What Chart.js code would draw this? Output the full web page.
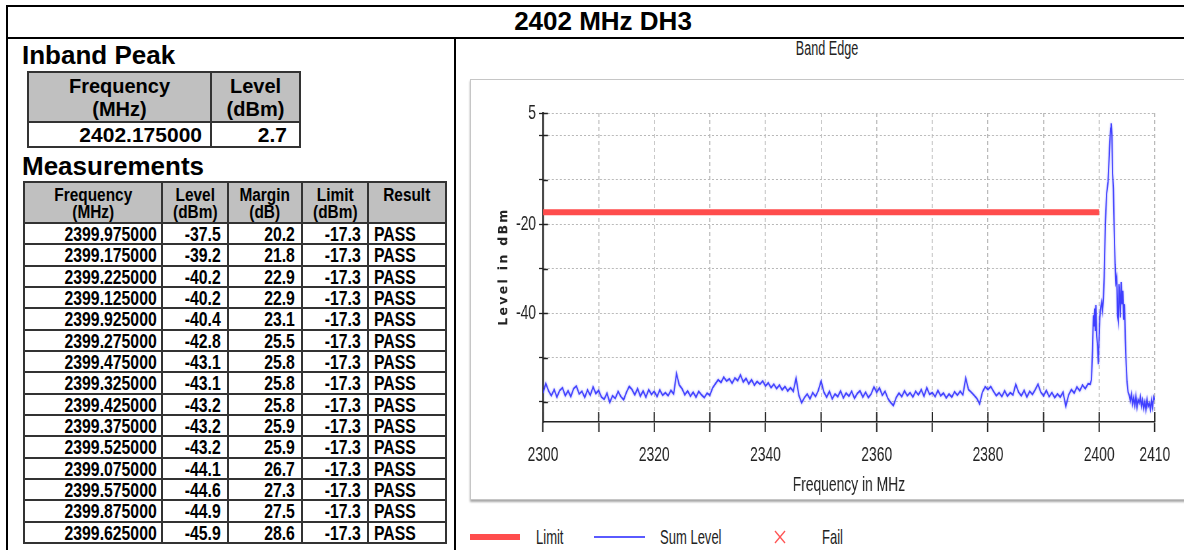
<!DOCTYPE html>
<html>
<head>
<meta charset="utf-8">
<script src="https://cdn.jsdelivr.net/npm/chart.js@4.4.1/dist/chart.umd.min.js"></script>
<style>
html,body{margin:0;padding:0;width:1184px;height:550px;overflow:hidden;background:#fff;}
body{position:relative;font-family:"Liberation Sans",Arial,sans-serif;color:#000;}
.ln{position:absolute;background:#000;}
#title{position:absolute;left:6px;top:6px;width:1194px;height:31px;line-height:31px;text-align:center;font-weight:bold;font-size:26px;}
.h2{position:absolute;left:22px;font-weight:bold;font-size:26px;line-height:26px;white-space:nowrap;}
table{position:absolute;border-collapse:collapse;table-layout:fixed;}
td,th{border:2px solid #333;padding:0;overflow:hidden;white-space:nowrap;}
#inband{left:27px;top:71px;width:274px;}
#inband th{background:#c0c0c0;font-size:20px;line-height:23px;font-weight:bold;vertical-align:top;padding-top:2px;text-align:center;}
#inband td{font-size:21px;line-height:23px;font-weight:bold;text-align:right;}
#meas{left:23px;top:181px;width:422px;}
#meas th{background:#c0c0c0;font-size:17.5px;line-height:17px;font-weight:bold;vertical-align:top;padding-top:4px;text-align:center;}
#meas td{font-size:20.5px;line-height:19px;font-weight:bold;text-align:right;padding-right:6px;}
#meas td.f{padding-right:4px;}
#meas td.res{text-align:left;padding-left:5px;padding-right:0;}
.sq{display:inline-block;transform:scaleX(0.77);transform-origin:100% 50%;}
.sqL{display:inline-block;transform:scaleX(0.77);transform-origin:0 50%;}
.sqC{display:inline-block;transform:scaleX(0.88);transform-origin:50% 50%;}
.cond{display:inline-block;transform:scaleX(0.62);transform-origin:0 50%;white-space:nowrap;}
#bandEdge{position:absolute;left:827px;top:38px;font-size:20px;line-height:20px;color:#222;}
#bandEdge span{display:inline-block;transform:translateX(-50%) scaleX(0.63);white-space:nowrap;}
#panel{position:absolute;left:470px;top:79px;width:740px;height:419px;border:1px solid #c6c6c6;box-shadow:0 2px 2px #a8a8a8;background:#fff;}
#panel canvas{position:absolute;left:0;top:0;transform-origin:0 0;}
.lg{position:absolute;top:526px;height:22px;line-height:22px;font-size:21px;color:#222;}
</style>
</head>
<body>
<div class="ln" style="left:6px;top:5px;width:1200px;height:2px"></div>
<div class="ln" style="left:6px;top:5px;width:2px;height:560px"></div>
<div class="ln" style="left:6px;top:37px;width:1200px;height:2px"></div>
<div class="ln" style="left:454px;top:37px;width:2px;height:560px"></div>
<div id="title">2402 MHz DH3</div>
<div class="h2" style="top:42px">Inband Peak</div>
<table id="inband"><colgroup><col style="width:183px"><col style="width:89px"></colgroup>
<thead><tr style="height:50px"><th>Frequency<br>(MHz)</th><th>Level<br>(dBm)</th></tr></thead>
<tbody id="inbandBody"></tbody></table>
<div class="h2" style="top:153px">Measurements</div>
<table id="meas"><colgroup><col style="width:138px"><col style="width:66px"><col style="width:74px"><col style="width:66px"><col style="width:78px"></colgroup>
<thead><tr style="height:41px"><th><span class="sqC">Frequency<br>(MHz)</span></th><th><span class="sqC">Level<br>(dBm)</span></th><th><span class="sqC">Margin<br>(dB)</span></th><th><span class="sqC">Limit<br>(dBm)</span></th><th><span class="sqC">Result</span></th></tr></thead>
<tbody id="measBody"></tbody></table>

<div id="bandEdge"><span>Band Edge</span></div>
<div id="panel"><canvas id="c" width="1080" height="418"></canvas></div>

<div style="position:absolute;left:470px;top:534px;width:50px;height:6px;background:#ff4d4d"></div>
<div class="lg" style="left:536px"><span class="cond">Limit</span></div>
<div style="position:absolute;left:594px;top:536px;width:51px;height:2px;background:#5a5aff"></div>
<div class="lg" style="left:660px"><span class="cond">Sum Level</span></div>
<svg style="position:absolute;left:774px;top:530px" width="12" height="14"><line x1="1" y1="1" x2="11" y2="13" stroke="#ff5555" stroke-width="1.3"/><line x1="11" y1="1" x2="1" y2="13" stroke="#ff5555" stroke-width="1.3"/></svg>
<div class="lg" style="left:822px"><span class="cond">Fail</span></div>

<script>
// ---------- table data ----------
const inbandFreq = ['2402.175000'];
const inbandLevel = [2.7];

const measFreq = ['2399.975000','2399.175000','2399.225000','2399.125000','2399.925000','2399.275000','2399.475000','2399.325000','2399.425000','2399.375000','2399.525000','2399.075000','2399.575000','2399.875000','2399.625000'];
const measLevel = [-37.5,-39.2,-40.2,-40.2,-40.4,-42.8,-43.1,-43.1,-43.2,-43.2,-43.2,-44.1,-44.6,-44.9,-45.9];
const measMargin = [20.2,21.8,22.9,22.9,23.1,25.5,25.8,25.8,25.8,25.9,25.9,26.7,27.3,27.5,28.6];
const measLimit = [-17.3,-17.3,-17.3,-17.3,-17.3,-17.3,-17.3,-17.3,-17.3,-17.3,-17.3,-17.3,-17.3,-17.3,-17.3];
const measResult = ['PASS','PASS','PASS','PASS','PASS','PASS','PASS','PASS','PASS','PASS','PASS','PASS','PASS','PASS','PASS'];

// ---------- chart data ----------
// noise floor sweep, 0.5 MHz spacing from 2300 MHz
const sweepStartMHz = 2300;
const sweepStepMHz = 0.5;
const sweepLevels = [
  -58.0,-55.8,-57.5,-58.6,-57.2,-58.9,-57.4,-56.8,-58.6,-57.5,
  -58.8,-57.0,-56.4,-58.2,-57.6,-59.0,-57.3,-58.5,-56.6,-58.1,
  -57.4,-58.9,-59.4,-58.0,-60.1,-58.6,-59.2,-57.6,-58.8,-59.5,
  -57.8,-56.5,-57.2,-58.4,-57.0,-58.7,-57.5,-58.9,-57.2,-58.3,
  -57.6,-58.8,-57.3,-58.5,-57.9,-58.6,-57.4,-58.2,-53.6,-56.2,
  -57.0,-58.4,-57.5,-58.7,-57.8,-58.9,-57.6,-58.4,-59.0,-58.0,
  -58.5,-56.8,-55.9,-55.0,-55.6,-54.4,-55.3,-54.8,-55.8,-54.6,
  -55.2,-53.9,-55.5,-54.7,-55.9,-55.0,-56.2,-55.4,-56.0,-55.3,
  -56.4,-55.7,-56.8,-56.0,-57.0,-56.2,-57.3,-56.5,-57.5,-56.8,
  -57.6,-54.6,-58.5,-60.2,-59.0,-58.2,-59.3,-57.9,-58.8,-57.4,
  -55.3,-57.8,-58.9,-57.6,-59.3,-58.2,-58.8,-57.5,-59.1,-58.0,
  -58.7,-57.6,-59.2,-58.1,-57.5,-58.9,-57.8,-59.0,-58.2,-56.6,
  -57.8,-56.8,-58.5,-57.6,-59.2,-60.1,-60.8,-59.0,-58.0,-58.8,
  -57.5,-58.6,-57.9,-58.9,-57.6,-58.4,-57.2,-58.7,-56.8,-58.3,
  -57.9,-58.8,-57.4,-58.6,-58.0,-59.1,-58.2,-58.9,-57.7,-58.5,
  -57.6,-58.4,-54.6,-57.2,-57.8,-58.5,-59.2,-60.4,-57.8,-56.6,
  -57.2,-56.5,-57.6,-58.6,-57.9,-58.8,-57.5,-58.7,-57.9,-58.4,
  -56.0,-57.8,-58.6,-57.4,-58.9,-57.6,-58.3,-57.2,-56.0,-57.8,
  -58.6,-57.4,-58.8,-57.9,-59.0,-58.2,-58.9,-57.8,-61.0,-58.4,
  -57.2,-58.0,-56.6,-57.5,-56.2,-57.0,-55.9
];
// in-band / edge region, read point by point
const edgeFreqs = [2398.4,2398.6,2398.8,2398.95,2399.05,2399.2,2399.3,2399.4,2399.55,2399.7,2399.85,2399.95,2400.1,2400.3,2400.45,2400.6,2400.75,2400.9,2401.1,2401.35,2401.6,2401.85,2402.05,2402.15,2402.3,2402.4,2402.55,2402.7,2402.85,2403.0,2403.15,2403.3,2403.45,2403.55,2403.7,2403.8,2403.95,2404.1,2404.25,2404.4,2404.55,2404.7,2404.85,2405.0,2405.2,2405.4,2405.6,2405.8,2406.0,2406.2,2406.4,2406.6,2406.8,2407.0,2407.2,2407.4,2407.6,2407.8,2408.0,2408.2,2408.4,2408.6,2408.8,2409.0,2409.2,2409.4,2409.6,2409.8,2410.0];
const edgeLevels = [-56.0,-55.0,-48.5,-40.5,-43.0,-39.0,-44.0,-38.2,-45.0,-47.5,-51.5,-47.0,-41.0,-38.5,-37.5,-39.5,-37.0,-32.0,-20.0,-13.0,-10.5,-3.0,1.5,2.7,0.0,-8.5,-12.0,-21.0,-29.0,-33.0,-32.0,-40.5,-42.0,-33.5,-36.5,-41.0,-33.0,-38.0,-35.0,-41.5,-38.0,-46.0,-51.5,-55.5,-57.8,-58.5,-59.8,-58.2,-60.5,-59.0,-60.8,-58.6,-61.2,-59.5,-60.2,-58.8,-61.0,-59.6,-61.5,-60.0,-61.8,-59.4,-61.0,-60.2,-61.6,-59.5,-61.2,-58.8,-59.5];

const limitFreqs = [2300, 2400];
const limitLevels = [-17.3, -17.3];

const xGridValues = [2300,2310,2320,2330,2340,2350,2360,2370,2380,2390,2400,2410];
const xTickLabels = [2300,2320,2340,2360,2380,2400,2410];
const yGridValues = [5,0,-10,-20,-30,-40,-50,-60];
const yTickLabels = [5,-20,-40];

// ---------- tables ----------
document.getElementById('inbandBody').innerHTML = inbandFreq.map((f,i) =>
  `<tr style="height:25px"><td style="padding-right:8px">${f}</td><td style="padding-right:12px">${inbandLevel[i].toFixed(1)}</td></tr>`).join('');
document.getElementById('measBody').innerHTML = measFreq.map((f,i) =>
  `<tr style="height:21.33px"><td class="f"><span class="sq">${f}</span></td><td><span class="sq">${measLevel[i].toFixed(1)}</span></td><td><span class="sq">${measMargin[i].toFixed(1)}</span></td><td><span class="sq">${measLimit[i].toFixed(1)}</span></td><td class="res"><span class="sqL">${measResult[i]}</span></td></tr>`).join('');

// ---------- chart ----------
// the chart is drawn on a wider canvas and squeezed horizontally (condensed look of the original)
const K = 0.66;
const canvas = document.getElementById('c');
canvas.style.transform = `scaleX(${K})`;
const FONT = '"Liberation Sans", Arial, sans-serif';
const sumData = sweepLevels.map((v,i) => ({x: sweepStartMHz + i*sweepStepMHz, y: v}))
  .concat(edgeFreqs.map((f,i) => ({x: f, y: edgeLevels[i]})));
const limitData = limitFreqs.map((f,i) => ({x: f, y: limitLevels[i]}));

const glow = {
  id: 'glow',
  beforeDatasetDraw(chart, args) {
    if (args.index === 1) {
      chart.ctx.save();
      chart.ctx.shadowColor = 'rgba(90,90,255,0.55)';
      chart.ctx.shadowBlur = 3;
    }
  },
  afterDatasetDraw(chart, args) {
    if (args.index === 1) chart.ctx.restore();
  }
};

const decor = {
  id: 'decor',
  afterDraw(chart) {
    const {ctx, chartArea, scales} = chart;
    ctx.save();
    ctx.strokeStyle = '#222';
    ctx.beginPath();
    ctx.lineWidth = 1.3 / K;
    xGridValues.forEach(v => {
      const px = scales.x.getPixelForValue(v);
      ctx.moveTo(px, chartArea.bottom);
      ctx.lineTo(px, chartArea.bottom - 10);
    });
    ctx.stroke();
    ctx.beginPath();
    ctx.lineWidth = 1.3;
    yGridValues.forEach(v => {
      const py = Math.round(scales.y.getPixelForValue(v)) + 0.5;
      ctx.moveTo(chartArea.left, py);
      ctx.lineTo(chartArea.left + 5 / K, py);
    });
    ctx.stroke();
    // rotated y-axis title with letter spacing (un-squeezed)
    ctx.translate(chartArea.left - 39 / K, (chartArea.top + chartArea.bottom) / 2 - 1);
    ctx.rotate(-Math.PI / 2);
    ctx.scale(1, 1 / K);
    ctx.font = 'bold 12.5px "DejaVu Sans", sans-serif';
    if ('letterSpacing' in ctx) ctx.letterSpacing = '2.3px';
    ctx.fillStyle = '#222';
    ctx.textAlign = 'center';
    ctx.textBaseline = 'middle';
    ctx.fillText('Level in dBm', 0, 0);
    ctx.restore();
  }
};

new Chart(canvas, {
  type: 'line',
  data: {
    datasets: [
      {label: 'Limit', data: limitData, borderColor: '#ff4d4d', borderWidth: 6, pointRadius: 0, borderCapStyle: 'butt', order: 1},
      {label: 'Sum Level', data: sumData, borderColor: 'rgba(50,50,255,0.9)', borderWidth: 1.9, pointRadius: 0, tension: 0, order: 0}
    ]
  },
  options: {
    responsive: false,
    animation: false,
    devicePixelRatio: 1,
    layout: {padding: {top: 33, right: 29 / K, left: 0, bottom: 0}},
    plugins: {legend: {display: false}, title: {display: false}, tooltip: {enabled: false}},
    scales: {
      x: {
        type: 'linear', min: 2300, max: 2410,
        afterBuildTicks: s => { s.ticks = xGridValues.map(v => ({value: v})); },
        afterFit: s => { s.height = 76; s.paddingLeft = 0; s.paddingRight = 0; },
        ticks: {autoSkip: false, maxRotation: 0, padding: 11, color: '#222', font: {family: FONT, size: 21},
                callback: v => xTickLabels.includes(v) ? String(v) : ''},
        grid: {color: '#b8b8b8', lineWidth: 1 / K, drawTicks: true, tickLength: 10, tickColor: '#222', tickWidth: 1.3 / K},
        border: {display: true, color: '#222', width: 1.6, dash: [4, 3]},
        title: {display: true, text: 'Frequency in MHz', color: '#222', font: {family: FONT, size: 21}, padding: {top: 0.5, bottom: 0}}
      },
      y: {
        type: 'linear', min: -64.5, max: 5,
        afterBuildTicks: s => { s.ticks = yGridValues.map(v => ({value: v})); },
        afterFit: s => { s.width = 72 / K; s.paddingTop = 0; s.paddingBottom = 0; },
        ticks: {autoSkip: false, padding: 3 / K, color: '#222', font: {family: FONT, size: 21},
                callback: v => yTickLabels.includes(v) ? String(v) : ''},
        grid: {color: '#b8b8b8', lineWidth: 1, drawTicks: true, tickLength: 4 / K, tickColor: '#222', tickWidth: 1.3},
        border: {display: true, color: '#222', width: 1.6 / K, dash: [2 / K, 2 / K]},
        title: {display: false}
      }
    }
  },
  plugins: [glow, decor]
});
</script>
</body>
</html>
